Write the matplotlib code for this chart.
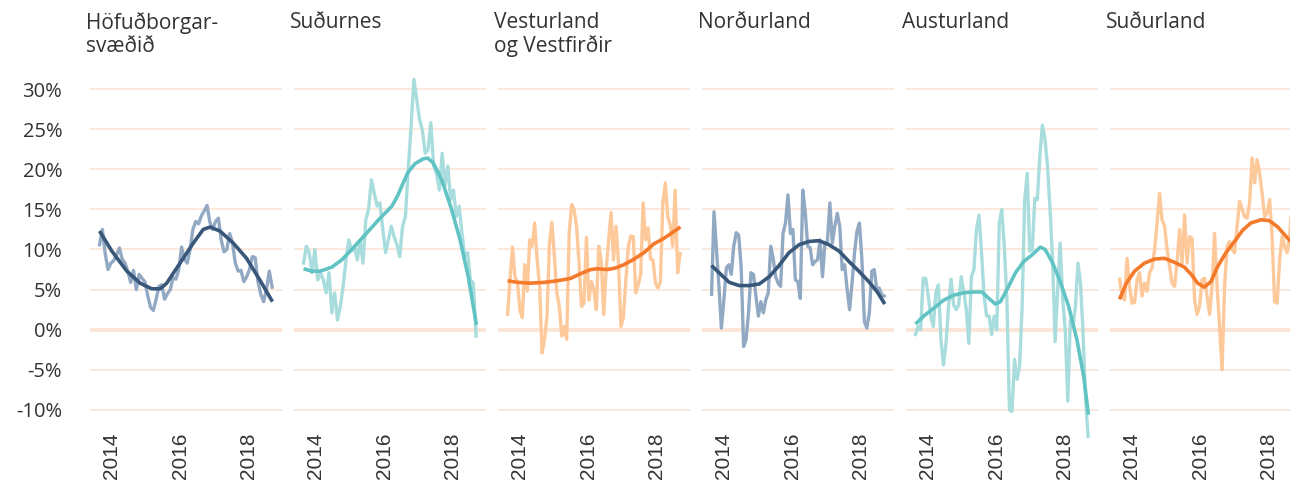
import numpy as np
import matplotlib
matplotlib.use('Agg')
import matplotlib.pyplot as plt

# data range of the monthly-ish series (decimal years)
START = 2013.64
END = 2018.70

TITLES = ['Höfuðborgar-\nsvæðið', 'Suðurnes', 'Vesturland\nog Vestfirðir',
          'Norðurland', 'Austurland', 'Suðurland']

hofud_vals = [10.6, 12.5, 9.5, 7.5, 8.3, 8.6, 9.3, 10.2, 8.8, 8.3, 7.3, 5.9, 7.4, 5.0, 6.9,
              6.4, 6.0, 4.3, 2.8, 2.4, 3.8, 5.4, 5.6, 3.8, 4.5, 5.0, 6.5, 6.3, 7.5, 10.3,
              8.8, 8.3, 10.0, 12.5, 13.5, 13.2, 14.2, 14.8, 15.5, 13.4, 12.5, 13.5, 13.9,
              11.2, 9.7, 10.0, 12.0, 10.8, 8.3, 7.3, 7.4, 6.0, 6.6, 7.5, 9.1, 9.0, 6.0,
              4.4, 3.5, 5.0, 7.3, 5.3]
hofud_trend_x = [2013.64, 2014.00, 2014.44, 2014.83, 2015.17, 2015.42, 2015.61, 2016.00,
                 2016.39, 2016.68, 2016.88, 2017.17, 2017.56, 2017.95, 2018.34, 2018.71]
hofud_trend_y = [12.3, 9.8, 7.3, 5.8, 5.1, 5.1, 5.8, 8.3, 10.8, 12.5, 12.8, 12.3, 10.8,
                 8.9, 6.2, 3.5]

sudurnes_vals = [8.3, 10.4, 9.6, 7.1, 10.0, 6.2, 7.1, 6.2, 4.6, 7.1, 2.1, 4.6, 1.2, 2.9,
                 5.4, 8.7, 11.2, 9.8, 10.4, 8.7, 11.2, 8.3, 13.7, 15.0, 18.7, 17.0, 15.4,
                 15.8, 12.5, 9.6, 11.2, 12.9, 11.6, 10.6, 9.1, 12.9, 14.1, 19.9, 25.3, 31.2,
                 28.7, 26.2, 24.9, 22.0, 22.4, 25.8, 20.4, 19.5, 17.4, 22.0, 17.9, 20.4,
                 16.2, 17.4, 14.1, 15.4, 12.0, 9.1, 9.6, 6.2, 5.8, -0.8]
sudurnes_trend_x = [2013.64, 2013.88, 2014.13, 2014.47, 2014.76, 2015.05, 2015.44, 2015.84,
                    2016.23, 2016.40, 2016.55, 2016.70, 2016.91, 2017.15, 2017.28, 2017.44,
                    2017.69, 2017.98, 2018.23, 2018.47, 2018.71]
sudurnes_trend_y = [7.6, 7.3, 7.3, 7.8, 8.7, 10.0, 11.8, 13.7, 15.4, 16.7, 18.2, 19.6, 20.7,
                    21.3, 21.4, 20.8, 18.7, 15.0, 11.2, 6.6, 0.6]

vestur_vals = [1.9, 6.2, 10.3, 6.6, 6.0, 2.5, 1.5, 8.1, 4.8, 11.2, 10.4, 13.3, 8.7, 5.4,
               -2.9, -1.2, 1.7, 10.8, 13.4, 9.1, 4.6, 2.9, -0.8, 0.4, -1.2, 12.0, 15.6,
               15.0, 12.9, 8.3, 2.9, 3.3, 11.5, 3.7, 6.0, 5.0, 2.5, 10.4, 8.7, 1.9, 7.5,
               11.2, 14.6, 8.7, 12.9, 8.3, 0.4, 1.5, 6.2, 10.4, 11.7, 11.6, 4.6, 5.6, 6.9,
               15.8, 11.2, 12.7, 8.8, 8.7, 5.8, 5.2, 6.0, 15.8, 18.3, 14.1, 13.0, 10.4,
               17.4, 7.1, 9.5]
vestur_trend_x = [2013.64, 2013.93, 2014.32, 2014.71, 2015.10, 2015.49, 2015.79, 2016.08,
                  2016.27, 2016.57, 2016.81, 2017.05, 2017.35, 2017.64, 2017.93, 2018.23,
                  2018.47, 2018.71]
vestur_trend_y = [6.1, 5.9, 5.8, 5.9, 6.1, 6.4, 7.0, 7.5, 7.6, 7.5, 7.7, 8.1, 8.8, 9.6,
                  10.7, 11.4, 12.1, 12.8]

nordur_vals = [4.4, 14.7, 10.0, 5.4, 0.2, 3.7, 7.7, 8.1, 6.9, 10.4, 12.1, 11.8, 7.9, -2.1,
               -1.2, 2.1, 7.1, 6.9, 4.2, 1.7, 3.5, 2.1, 3.7, 4.6, 10.4, 8.9, 6.6, 5.8, 5.4,
               12.0, 13.3, 16.8, 12.0, 12.5, 6.2, 6.0, 3.9, 17.4, 14.7, 10.4, 10.2, 8.1,
               8.5, 8.7, 11.2, 6.6, 10.8, 11.0, 15.8, 10.8, 12.9, 14.5, 12.9, 7.5, 8.1,
               5.0, 2.5, 5.8, 9.6, 12.3, 13.3, 8.7, 1.0, 0.2, 2.1, 7.3, 7.5, 5.0, 5.2,
               4.4, 4.2]
nordur_trend_x = [2013.64, 2013.86, 2014.16, 2014.45, 2014.74, 2015.04, 2015.33, 2015.62,
                  2015.91, 2016.21, 2016.50, 2016.79, 2017.08, 2017.38, 2017.67, 2017.96,
                  2018.25, 2018.50, 2018.72]
nordur_trend_y = [8.0, 7.1, 5.9, 5.5, 5.5, 5.7, 6.6, 8.0, 9.6, 10.6, 11.0, 11.1, 10.6,
                  9.8, 8.5, 7.3, 6.0, 4.7, 3.2]

austur_vals = [-0.6, 0.4, 0.0, 6.4, 6.4, 4.2, 1.7, 0.4, 4.6, 5.6, -1.2, -4.4, -1.7, 2.9,
               6.3, 3.1, 2.5, 3.1, 6.6, 4.8, 2.5, -1.7, 6.6, 7.5, 12.5, 14.3, 9.6, 4.2,
               1.7, 1.7, -0.6, 1.7, 0.0, 13.3, 15.0, 10.2, 3.7, -10.0, -10.2, -3.7, -6.2,
               -4.6, 2.9, 16.2, 19.5, 9.8, 10.0, 16.4, 16.2, 21.8, 25.5, 23.7, 20.4, 15.0,
               8.7, -1.5, 5.0, 10.8, 3.7, 0.0, -8.9, 1.2, 0.4, 2.9, 8.3, 5.8, -0.4, -8.7,
               -13.3]
austur_trend_x = [2013.64, 2013.88, 2014.18, 2014.47, 2014.76, 2015.05, 2015.35, 2015.59,
                  2015.79, 2015.98, 2016.13, 2016.32, 2016.57, 2016.81, 2017.05, 2017.30,
                  2017.44, 2017.64, 2017.88, 2018.13, 2018.37, 2018.57, 2018.71]
austur_trend_y = [0.7, 1.7, 2.7, 3.7, 4.3, 4.6, 4.7, 4.7, 3.9, 3.2, 3.5, 5.0, 7.1, 8.5,
                  9.3, 10.3, 10.0, 8.5, 6.0, 2.9, -1.2, -5.8, -10.6]

sudur_vals = [6.3, 4.2, 3.7, 8.9, 5.4, 3.3, 3.4, 6.2, 7.1, 4.2, 5.8, 4.8, 7.1, 7.7, 10.0,
              13.3, 17.0, 13.7, 12.9, 10.0, 7.9, 5.8, 5.4, 8.5, 12.5, 8.3, 14.3, 8.3, 11.6,
              11.4, 3.7, 1.9, 2.9, 6.2, 6.4, 4.2, 1.9, 5.4, 12.0, 5.4, 0.4, -5.0, 5.4,
              10.4, 11.0, 10.0, 9.6, 12.9, 16.0, 15.0, 14.1, 13.9, 15.8, 21.4, 18.3, 21.2,
              19.5, 17.0, 14.1, 14.5, 16.2, 11.6, 3.5, 3.3, 8.7, 11.6, 10.4, 9.6, 11.6,
              15.8]
sudur_trend_x = [2013.64, 2013.84, 2014.08, 2014.37, 2014.66, 2014.96, 2015.25, 2015.54,
                 2015.74, 2015.93, 2016.13, 2016.32, 2016.52, 2016.76, 2017.01, 2017.25,
                 2017.49, 2017.79, 2018.03, 2018.28, 2018.57, 2018.66]
sudur_trend_y = [3.8, 5.8, 7.3, 8.3, 8.8, 8.9, 8.4, 7.8, 6.9, 5.8, 5.3, 6.0, 7.9, 9.6,
                 11.0, 12.4, 13.3, 13.7, 13.6, 12.8, 11.4, 11.0]

BLUE = ('#92a9c4', '#385779')
TEAL = ('#a9dddd', '#62c3c4')
ORANGE = ('#fdc99b', '#f5792a')
GRID_COLOR = '#fce3d3'
TEXT_COLOR = '#333333'

PANELS = [
    (hofud_vals, hofud_trend_x, hofud_trend_y, BLUE),
    (sudurnes_vals, sudurnes_trend_x, sudurnes_trend_y, TEAL),
    (vestur_vals, vestur_trend_x, vestur_trend_y, ORANGE),
    (nordur_vals, nordur_trend_x, nordur_trend_y, BLUE),
    (austur_vals, austur_trend_x, austur_trend_y, TEAL),
    (sudur_vals, sudur_trend_x, sudur_trend_y, ORANGE),
]

YTICKS = [-10, -5, 0, 5, 10, 15, 20, 25, 30]
XTICKS = [2014, 2016, 2018]

W, H = 1290, 484
fig = plt.figure(figsize=(W / 100, H / 100), dpi=100)

for i, (vals, tx, ty, (light, dark)) in enumerate(PANELS):
    left = 90 + 204 * i
    ax = fig.add_axes([left / W, (H - 442) / H, 192 / W, (442 - 73) / H])
    for v in YTICKS:
        ax.axhline(v, color=GRID_COLOR, lw=2.6 if v == 0 else 1.1, zorder=0)
    xs = np.linspace(START, END, len(vals))
    ax.plot(xs, vals, color=light, lw=2.4, solid_joinstyle='round', zorder=2)
    ax.plot(tx, ty, color=dark, lw=2.6, solid_capstyle='butt', solid_joinstyle='round', zorder=3)
    ax.set_xlim(2013.36, 2018.99)
    ax.set_ylim(-14, 32)
    for s in ax.spines.values():
        s.set_visible(False)
    ax.set_xticks(XTICKS)
    ax.set_xticklabels([str(x) for x in XTICKS], rotation=90, fontsize=15,
                       family='Liberation Sans', color=TEXT_COLOR, va='top')
    ax.tick_params(axis='x', length=0, pad=-6.5)
    if i == 0:
        ax.set_yticks(YTICKS)
        ax.set_yticklabels([f'{v}%' for v in YTICKS], fontsize=14.5,
                           family='Open Sans', color=TEXT_COLOR)
        ax.tick_params(axis='y', length=0, pad=20)
    else:
        ax.set_yticks([])
    fig.text((left - 4) / W, 1 - 12 / H, TITLES[i], ha='left', va='top', fontsize=15,
             family='Open Sans', color=TEXT_COLOR, linespacing=1.1)

fig.savefig('out.png', dpi=100)
